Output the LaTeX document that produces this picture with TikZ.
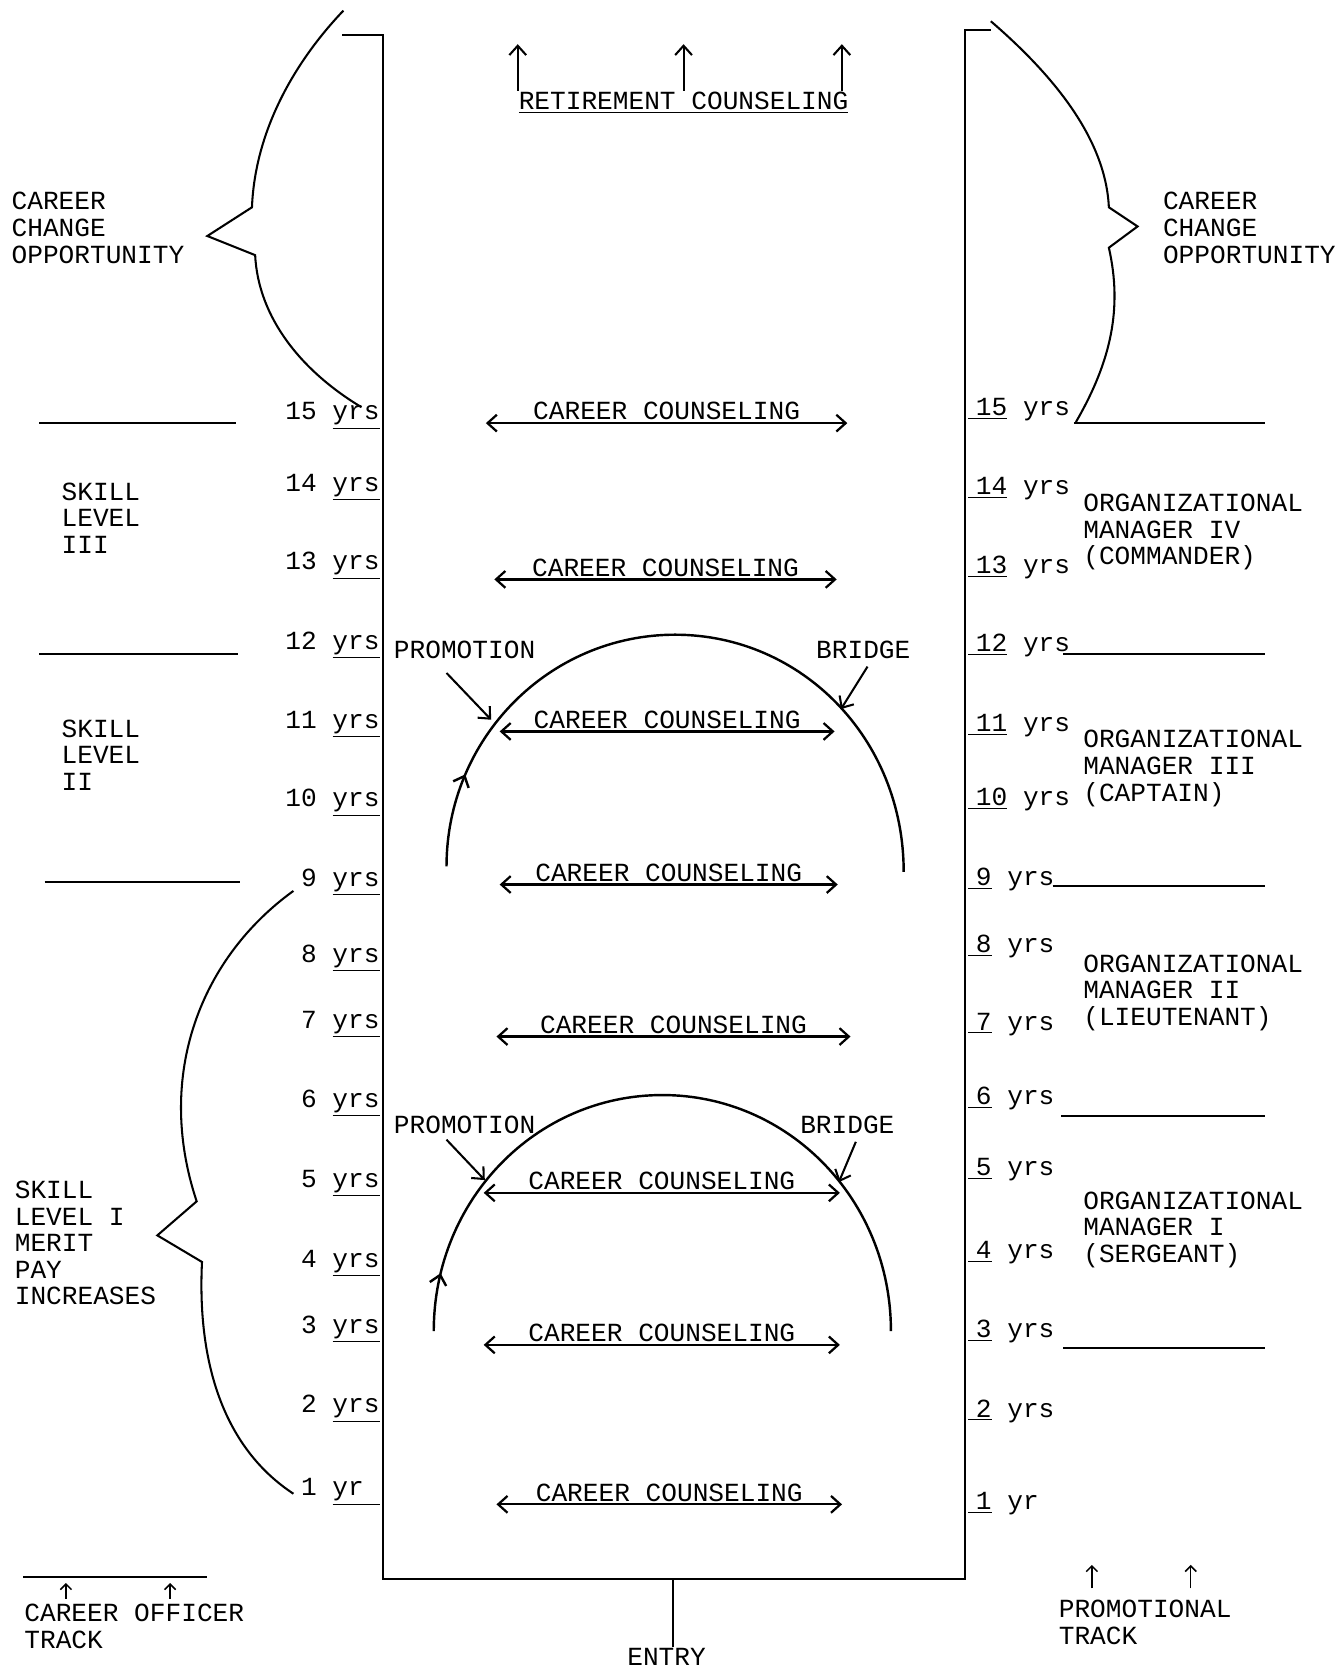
\documentclass[tikz,border=0pt]{standalone}
\usepackage{fontspec}
\setmainfont{Liberation Mono}
\usetikzlibrary{arrows.meta,decorations.markings}

\begin{document}
\begin{tikzpicture}[x=0.02cm,y=-0.02cm,>={Straight Barb[length=5pt,width=9pt]},line width=1.1pt]
    \tikzstyle{txt}=[inner sep=0pt, align=left, font=\fontsize{14}{14.23}\selectfont]
    \tikzstyle{lyrs}=[txt, anchor=base east]
    \tikzstyle{ryrs}=[txt, anchor=base west]
    \tikzstyle{counsel}=[<->, line width=1.2pt]
    \tikzstyle{tick}=[->, line width=0.8pt, >={Straight Barb[length=3pt,width=6pt]}]
    \tikzstyle{bridge}=[line width=1.3pt, postaction={decorate}]
    \useasboundingbox (0,0) rectangle (1259,1568);

    % the career box
    \coordinate (tl) at (360,33);
    \coordinate (tr) at (908,28);
    \coordinate (bl) at (360,1485);
    \coordinate (br) at (908,1485);
    \draw (322,33) -- (tl) -- (bl) -- (br) -- (tr) -- (932,28);
    \coordinate (entryline) at (633,1485);
    \node[txt] (entry) at (627,1558) {ENTRY};
    \draw (entryline) -- (entryline |- entry.north);

    % years of service
    \foreach \n/\yl/\yr in {15/388/384, 14/455/458, 13/529/532, 12/604/606, 11/678/681,
        10/752/751, 9/827/826, 8/898/889, 7/960/962, 6/1035/1032, 5/1110/1099,
        4/1185/1177, 3/1247/1251, 2/1322/1326} {
      \node[lyrs] (ly\n) at (358,\yl+7) {\n\ \underline{yrs}};
      \node[ryrs] (ry\n) at (910,\yr+7) {\underline{\hspace{4pt}\n}\ yrs};
    }
    \node[lyrs] (ly1) at (358,1407) {1\ \underline{yr\hphantom{s}}};
    \node[ryrs] (ry1) at (910,1420) {\underline{\hspace{4pt}1}\ yr};

    % counseling across the box
    \node[txt, anchor=base west] (ret) at (487,103) {\underline{RETIREMENT COUNSELING}};
    \draw[->] (ret.north west) -- ++(0,-44);
    \draw[->] (ret.north) -- ++(0,-44);
    \draw[->] ([xshift=-4pt]ret.north east) -- ++(0,-44);
    \foreach \i/\a/\b/\y in {1/457/797/398, 2/465/787/545, 3/470/785/688, 4/470/788/832,
        5/467/800/975, 6/455/790/1122, 7/455/790/1265, 8/467/792/1415} {
      \coordinate (cl\i) at (\a,\y);
      \coordinate (cr\i) at (\b,\y);
      \draw[counsel] (cl\i) -- (cr\i) node[txt, midway, above=1pt] {CAREER COUNSELING};
    }

    % promotion bridges
    \draw[bridge, decoration={markings, mark=at position 0.13 with {\arrow{>}}}]
      (420,815) .. controls (420,694.6) and (516.3,597) .. (635,597)
      .. controls (753.7,597) and (850,694.6) .. (850,820);
    \draw[bridge, decoration={markings, mark=at position 0.08 with {\arrow{>}}}]
      (408,1252) .. controls (408,1128.5) and (504.3,1030) .. (623,1030)
      .. controls (741.7,1030) and (838,1128.5) .. (838,1252);
    \node[txt] (prom1) at (437,611) {PROMOTION};
    \node[txt] (brg1) at (812,611) {BRIDGE};
    \node[txt] (prom2) at (437,1058) {PROMOTION};
    \node[txt] (brg2) at (797,1058) {BRIDGE};
    \coordinate (pp1) at (462,677);
    \coordinate (bp1) at (791,667);
    \coordinate (pp2) at (456,1110);
    \coordinate (bp2) at (789,1112);
    \draw[->] (prom1) ++(-17,22) -- (pp1);
    \draw[->] (brg1) ++(4,16) -- (bp1);
    \draw[->] (prom2) ++(-17,14) -- (pp2);
    \draw[->] (brg2) ++(8,16) -- (bp2);

    % left side
    \node[txt, anchor=north west] (ccl) at (10,180) {CAREER\\CHANGE\\OPPORTUNITY};
    \node[txt, anchor=north west] (sk3) at (57,453) {SKILL\\LEVEL\\III};
    \node[txt, anchor=north west] (sk2) at (57,676) {SKILL\\LEVEL\\II};
    \node[txt, anchor=north west] (sk1) at (13,1110) {SKILL\\LEVEL I\\MERIT\\PAY\\INCREASES};
    \node[txt, anchor=north west] (cot) at (22,1508) {CAREER OFFICER\\TRACK};
    \draw (37,398) -- (222,398);
    \draw (37,615) -- (224,615);
    \draw (42,830) -- (226,830);
    \draw (22,1483) -- (195,1483);
    \draw[tick] (cot.north west) ++(40,-4) -- ++(0,-15);
    \draw[tick] (cot.north west) ++(138,-4) -- ++(0,-15);
    \draw (323,10) .. controls (280,55) and (240,120) .. (237,195) -- (195,222) -- (240,240)
      .. controls (243,300) and (285,350) .. (340,383);
    \draw (276,838) .. controls (190,900) and (145,1010) .. (185,1130) -- (148,1162) -- (190,1187)
      .. controls (185,1290) and (215,1365) .. (276,1405);

    % right side
    \node[txt, anchor=north west] (ccr) at (1093,180) {CAREER\\CHANGE\\OPPORTUNITY};
    \node[txt, anchor=north west] (om4) at (1018,464) {ORGANIZATIONAL\\MANAGER IV\\(COMMANDER)};
    \node[txt, anchor=north west] (om3) at (1018,686) {ORGANIZATIONAL\\MANAGER III\\(CAPTAIN)};
    \node[txt, anchor=north west] (om2) at (1018,897) {ORGANIZATIONAL\\MANAGER II\\(LIEUTENANT)};
    \node[txt, anchor=north west] (om1) at (1018,1120) {ORGANIZATIONAL\\MANAGER I\\(SERGEANT)};
    \node[txt, anchor=north west] (pt) at (995,1504) {PROMOTIONAL\\TRACK};
    \draw (1010,398) -- (1190,398);
    \draw (1000,615) -- (1190,615);
    \draw (990,833) -- (1190,833);
    \draw (998,1050) -- (1190,1050);
    \draw (1000,1268) -- (1190,1268);
    \draw[tick] (pt.north west) ++(32,-10) -- ++(0,-22);
    \draw[tick] (pt.north west) ++(125,-10) -- ++(0,-22);
    \draw (932,20) .. controls (990,70) and (1040,130) .. (1043,195) -- (1070,213) -- (1043,233)
      .. controls (1056,290) and (1045,340) .. (1012,397);
\end{tikzpicture}
\end{document}
